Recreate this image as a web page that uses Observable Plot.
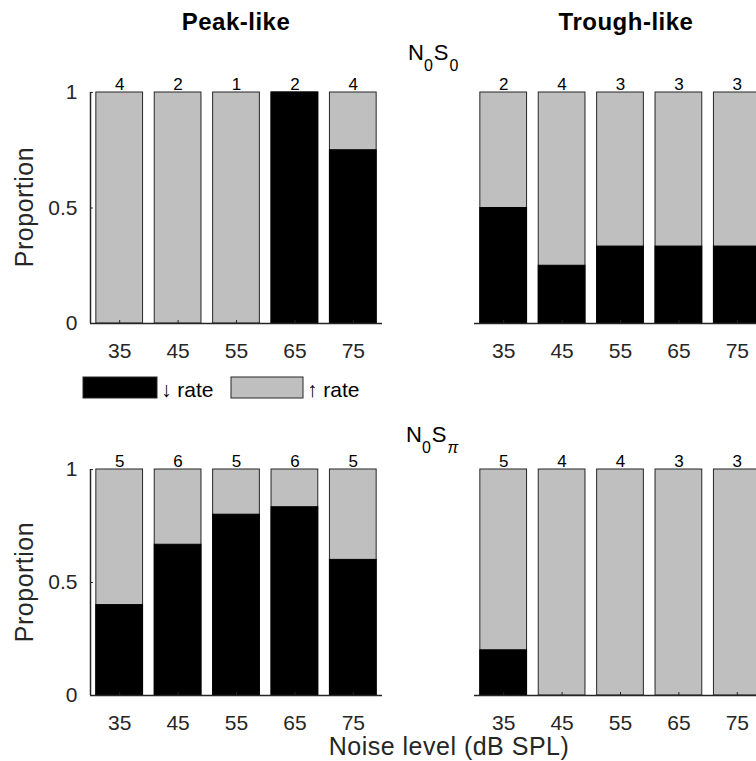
<!DOCTYPE html>
<html>
<head>
<meta charset="utf-8">
<script src="https://cdn.jsdelivr.net/npm/d3@7"></script>
<script src="https://cdn.jsdelivr.net/npm/@observablehq/plot@0.6"></script>
<style>
  html, body { margin: 0; padding: 0; background: #fff; }
  #root { position: relative; width: 756px; height: 761px; overflow: hidden; background: #fff;
          font-family: "Liberation Sans", Arial, sans-serif; }
  #root svg { position: absolute; }
</style>
</head>
<body>
<div id="root"></div>
<script>
// ---- data ----
const levels = [35, 45, 55, 65, 75];
const levelLabels = ["35", "45", "55", "65", "75"];
const yTicks = [0, 0.5, 1];
const yTickLabels = ["0", "0.5", "1"];

// proportion with decreased rate (black); remainder = increased rate (gray)
const peakN0S0Down = [0, 0, 0, 1, 0.75];
const peakN0S0Count = [4, 2, 1, 2, 4];
const troughN0S0Down = [0.5, 0.25, 0.333, 0.333, 0.333];
const troughN0S0Count = [2, 4, 3, 3, 3];
const peakN0SpiDown = [0.4, 0.667, 0.8, 0.833, 0.6];
const peakN0SpiCount = [5, 6, 5, 6, 5];
const troughN0SpiDown = [0.2, 0, 0, 0, 0];
const troughN0SpiCount = [5, 4, 4, 3, 3];

const columnTitles = ["Peak-like", "Trough-like"];
const legendLabels = ["\u2193 rate", "\u2191 rate"];
const xLabel = "Noise level (dB SPL)";
const yLabel = "Proportion";

const FONT = '"Liberation Sans", Arial, sans-serif';
const AX = "#262626";
const GRAY = "#bfbfbf";
const HALF = 4; // half bar width in dB

function panel(down, counts, showY, height) {
  const rows = levels.map((level, i) => ({level, label: levelLabels[i], down: down[i], n: counts[i]}));
  const marks = [
    Plot.rect(rows, {x1: d => d.level - HALF, x2: d => d.level + HALF, y1: () => 0, y2: () => 1,
      fill: GRAY, stroke: AX, strokeWidth: 1}),
    Plot.rect(rows.filter(d => d.down > 0), {x1: d => d.level - HALF, x2: d => d.level + HALF,
      y1: () => 0, y2: d => d.down, fill: "#000", stroke: "#000", strokeWidth: 1}),
    Plot.ruleX(rows, {x: "level", y1: () => 0, y2: () => 0.013, stroke: AX, strokeWidth: 1}),
    Plot.ruleY([0], {stroke: AX, strokeWidth: 1.5}),
    Plot.text(rows, {x: "level", y: () => 1, text: d => String(d.n), lineAnchor: "bottom", dy: -3,
      fontSize: 17, fill: "#000"}),
    Plot.text(rows, {x: "level", y: () => 0, text: "label", lineAnchor: "middle", dy: 28,
      fontSize: 21, fill: AX, letterSpacing: 0.5})
  ];
  if (showY) {
    marks.push(
      Plot.ruleX([30], {y1: () => 0, y2: () => 1, stroke: AX, strokeWidth: 1.5}),
      Plot.ruleY(yTicks, {y: d => d, x1: () => 30, x2: () => 30.5, stroke: AX, strokeWidth: 1}),
      Plot.text(yTicks, {x: () => 30, y: d => d, text: (d, i) => yTickLabels[i], textAnchor: "end",
        lineAnchor: "middle", dx: -13, fontSize: 21, fill: AX})
    );
  }
  return Plot.plot({
    width: 400, height,
    marginLeft: 90, marginRight: 18, marginTop: 32, marginBottom: 47,
    x: {domain: [30, 80], axis: null},
    y: {domain: [0, 1], axis: null},
    style: {fontFamily: FONT, background: "transparent", overflow: "visible"},
    marks
  });
}

const root = document.getElementById("root");
function place(svg, left, top) {
  svg.style.left = left + "px";
  svg.style.top = top + "px";
  root.appendChild(svg);
}
place(panel(peakN0S0Down, peakN0S0Count, true, 310), 0, 60);
place(panel(troughN0S0Down, troughN0S0Count, false, 310), 384, 60);
place(panel(peakN0SpiDown, peakN0SpiCount, true, 305), 0, 437);
place(panel(troughN0SpiDown, troughN0SpiCount, false, 305), 384, 437);

// ---- annotation layer (titles, condition labels, legend, axis labels) ----
const ov = d3.select(root).append("svg")
  .attr("width", 756).attr("height", 761)
  .style("left", "0px").style("top", "0px")
  .style("font-family", FONT);

ov.append("text").attr("x", 236).attr("y", 30).attr("text-anchor", "middle")
  .attr("font-size", 24).attr("font-weight", "bold").attr("letter-spacing", 0.5)
  .attr("fill", "#000").text(columnTitles[0]);
ov.append("text").attr("x", 626).attr("y", 30).attr("text-anchor", "middle")
  .attr("font-size", 24).attr("font-weight", "bold").attr("letter-spacing", 0.5)
  .attr("fill", "#000").text(columnTitles[1]);

function condLabel(x, y, sub2, italic2) {
  const t = ov.append("text").attr("x", x).attr("y", y).attr("font-size", 22).attr("fill", "#000");
  t.append("tspan").text("N");
  t.append("tspan").attr("dy", 11).attr("font-size", 16).text("0");
  t.append("tspan").attr("dy", -11).attr("dx", 1).text("S");
  const s = t.append("tspan").attr("dy", 11).attr("dx", 1).attr("font-size", 16).text(sub2);
  if (italic2) s.attr("font-style", "italic");
}
condLabel(408, 60, "0", false);
condLabel(406, 442, "\u03c0", true);

// legend
ov.append("rect").attr("x", 83).attr("y", 377).attr("width", 74).attr("height", 21)
  .attr("fill", "#000").attr("stroke", AX);
ov.append("text").attr("x", 161).attr("y", 397).attr("font-size", 21).attr("fill", "#000").text(legendLabels[0]);
ov.append("rect").attr("x", 231).attr("y", 377).attr("width", 72).attr("height", 21)
  .attr("fill", GRAY).attr("stroke", AX);
ov.append("text").attr("x", 307).attr("y", 397).attr("font-size", 21).attr("fill", "#000").text(legendLabels[1]);

// y labels
[207, 582].forEach(cy => {
  ov.append("text").attr("transform", `translate(33,${cy}) rotate(-90)`).attr("text-anchor", "middle")
    .attr("font-size", 25).attr("letter-spacing", 0.5).attr("fill", AX).text(yLabel);
});
// x label
ov.append("text").attr("x", 449).attr("y", 755).attr("text-anchor", "middle")
  .attr("font-size", 25).attr("letter-spacing", 0.5).attr("fill", AX).text(xLabel);
</script>
</body>
</html>
